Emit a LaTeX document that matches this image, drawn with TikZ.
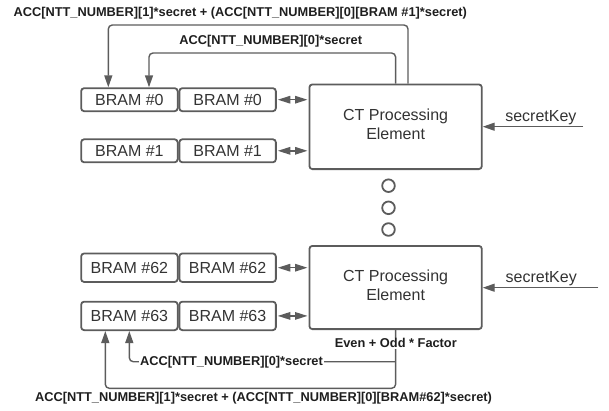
\documentclass[tikz,border=0pt]{standalone}
\usepackage{fontspec}
\setmainfont{Liberation Sans}
\usetikzlibrary{arrows.meta}

\definecolor{strokegray}{HTML}{5C5C5C}
\definecolor{boxtext}{HTML}{333333}
\definecolor{labelink}{HTML}{1E1E1E}

\begin{document}
\begin{tikzpicture}[x=1pt,y=-1pt,
  bram/.style={draw=strokegray,line width=1.8pt,rounded corners=3pt,
    minimum width=96.5pt,inner sep=0pt,
    font=\fontsize{16}{19}\selectfont,text=boxtext},
  bramtop/.style={bram,minimum height=23pt},
  bramlow/.style={bram,minimum height=28.5pt},
  pebox/.style={draw=strokegray,line width=1.8pt,rounded corners=3pt,
    minimum width=172.4pt,inner sep=0pt},
  petext/.style={align=center,inner sep=0pt,
    font=\fontsize{16}{19.3}\selectfont,text=boxtext},
  keytext/.style={anchor=base,inner sep=0pt,
    font=\fontsize{16}{19}\selectfont,text=boxtext},
  dotnode/.style={circle,draw=strokegray,line width=1.8pt,
    minimum size=12.6pt,inner sep=0pt},
  conn/.style={draw=strokegray,line width=1.4pt,rounded corners=4pt},
  tip/.style={-{Triangle[length=12pt,width=8pt]}},
  dbl/.style={draw=strokegray,line width=1.4pt,shorten <=1pt,shorten >=1pt,
    {Triangle[length=12.5pt,width=7.5pt]}-{Triangle[length=12.5pt,width=7.5pt]}},
  lbl/.style={inner sep=0.8pt,font=\fontsize{12.8}{15}\selectfont\bfseries,
    text=labelink},
  lblw/.style={lbl,fill=white}
]
\useasboundingbox (0,0) rectangle (609,410);

% BRAM pairs
\node[bramtop] (b0L) at (129.4,99.7) {BRAM \#0};
\node[bramtop] (b0R) at (227.6,99.7) {BRAM \#0};
\node[bramtop] (b1L) at (129.4,150.8) {BRAM \#1};
\node[bramtop] (b1R) at (227.6,150.8) {BRAM \#1};
\node[bramlow] (b62L) at (129.4,267.7) {BRAM \#62};
\node[bramlow] (b62R) at (227.6,267.7) {BRAM \#62};
\node[bramlow] (b63L) at (129.4,315.9) {BRAM \#63};
\node[bramlow] (b63R) at (227.6,315.9) {BRAM \#63};

% processing elements
\node[pebox,minimum height=84.7pt] (pe1) at (395.6,126.75) {};
\node[petext] (pe1t) at (395.6,124.6) {CT Processing\\Element};
\node[pebox,minimum height=83.2pt] (pe2) at (395.6,287.5) {};
\node[petext] (pe2t) at (395.6,285.6) {CT Processing\\Element};

% ellipsis between the two elements
\node[dotnode] (d1) at (388.5,185.7) {};
\node[dotnode] (d2) at (388.5,207.8) {};
\node[dotnode] (d3) at (388.5,229.5) {};

% BRAM <-> PE links
\draw[dbl] (b0R.east) -- (b0R.east -| pe1.west);
\draw[dbl] (b1R.east) -- (b1R.east -| pe1.west);
\draw[dbl] (b62R.east) -- (b62R.east -| pe2.west);
\draw[dbl] (b63R.east) -- (b63R.east -| pe2.west);

% secret key inputs
\coordinate (k1) at (583,126.7);
\coordinate (k2) at (598.3,287.7);
\draw[conn,tip] (k1) -- (k1 -| pe1.east);
\draw[conn,tip] (k2) -- (k2 -| pe2.east);
\node[keytext] (k1t) at (540.9,121) {secretKey};
\node[keytext] (k2t) at (541.2,282.3) {secretKey};

% feedback from the first element
\coordinate (o1R) at (408,25);
\coordinate (o1L) at (108.3,25);
\coordinate (i1L) at (149,53);
\draw[conn,tip] (o1R |- pe1.north) -- (o1R) -- (o1L) -- (o1L |- b0L.north);
\draw[conn,tip] (pe1.north) |- (i1L) -- (i1L |- b0L.north);

% feedback from the last element
\coordinate (o2L) at (105.3,388.3);
\coordinate (i2L) at (129.3,361.7);
\draw[conn,tip] (pe2.south) -- (pe2.south |- o2L) -- (o2L) -- (o2L |- b63L.south);
\draw[conn,tip] (pe2.south |- i2L) -- (i2L) -- (i2L |- b63L.south);

% path labels
\node[lbl] (topout) at (240.3,13) {ACC[NTT\_NUMBER][1]*secret + (ACC[NTT\_NUMBER][0][BRAM \#1]*secret)};
\node[lbl] (topin) at (270.7,41) {ACC[NTT\_NUMBER][0]*secret};
\node[lblw] (factor) at (395.8,343.3) {Even + Odd * Factor};
\node[lblw] (botin) at (231.5,361.7) {ACC[NTT\_NUMBER][0]*secret};
\node[lbl] (botout) at (263.5,398.3) {ACC[NTT\_NUMBER][1]*secret + (ACC[NTT\_NUMBER][0][BRAM\#62]*secret)};
\end{tikzpicture}
\end{document}
